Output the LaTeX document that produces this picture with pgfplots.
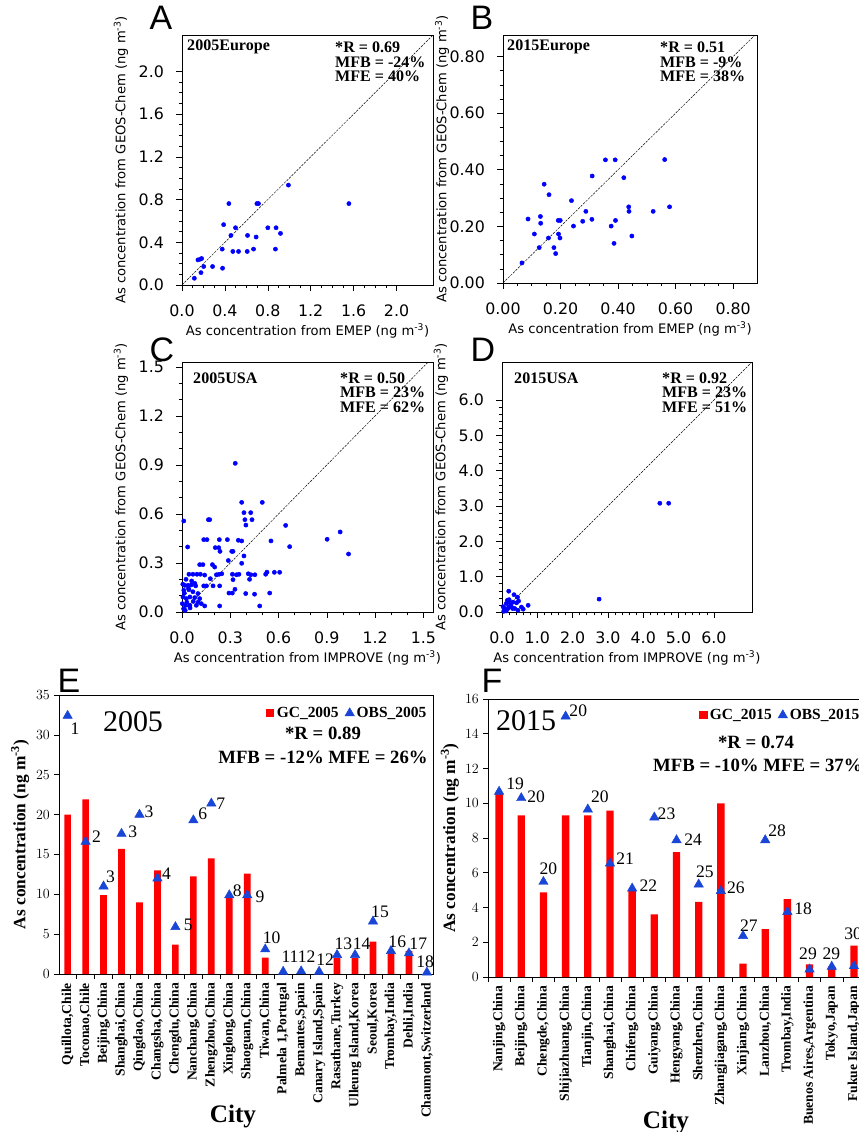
\documentclass[border=0pt]{standalone}
\usepackage{fontspec}
\usepackage{pgfplots}
\pgfplotsset{compat=1.18}
\setmainfont{Liberation Serif}
\newfontfamily\dv{DejaVu Sans}
\newfontfamily\las{Liberation Sans}
\definecolor{sblue}{RGB}{0,0,255}
\definecolor{tblue}{RGB}{25,70,215}
\definecolor{bred}{RGB}{255,0,0}

\pgfplotsset{
  sca/.style={scale only axis, tick pos=left, tick align=outside,
    major tick length=1.8mm, minor tick length=1.0mm,
    axis line style={line width=0.6pt}, every tick/.style={black,line width=0.5pt},
    tick label style={font=\dv\fontsize{13.5}{14}\selectfont},
    xticklabel shift=3mm, yticklabel shift=2.4mm,
    label style={font=\dv\fontsize{11.2}{12}\selectfont},
    ylabel={As concentration from GEOS-Chem (ng m\textsuperscript{-3})},
    ylabel style={at={(axis description cs:-0.243,0.5)},anchor=center},
    xlabel style={at={(axis description cs:0.5,-0.184)},anchor=center}},
  pts/.style={only marks, mark=*, mark size=1.8pt, color=sblue},
  diag/.style={black, line width=0.4pt, dash pattern=on 2pt off 1pt},
  barax/.style={scale only axis, tick pos=left, tick align=outside, clip=false,
    major tick length=1.5mm, minor tick length=1.5mm, ymin=0,
    axis line style={line width=0.6pt}, every tick/.style={black,line width=0.5pt},
    major x tick style={draw=none},
    yticklabel style={font=\bfseries\fontsize{12.8}{14}\selectfont},
    xticklabel style={rotate=90, anchor=east, font=\bfseries\fontsize{11.6}{13}\selectfont},
    ylabel={As concentration (ng m\textsuperscript{-3})},
    ylabel style={font=\bfseries\fontsize{14.8}{16}\selectfont, at={(axis description cs:-0.104,0.5)}, anchor=center},
    legend columns=2,
    legend style={draw=none, fill=none, inner sep=0pt, font=\bfseries\fontsize{13.2}{14}\selectfont,
      /tikz/every even column/.append style={column sep=1.2mm}}},
  gc/.style={ybar, bar width=2.0mm, bar shift=0pt, fill=bred, draw=none,
    legend image code/.code={\fill[bred] (0mm,-1.3mm) rectangle (2.6mm,1.3mm);}},
  obs/.style={only marks, mark=triangle*, mark size=4.6pt, color=tblue}
}

\begin{document}
\begin{tikzpicture}
\path[use as bounding box] (0,0) rectangle ({859*0.3mm},{-1132*0.3mm});

% (A) 2005 Europe
\begin{axis}[sca, at={({182*0.3mm},{-285*0.3mm})}, anchor=south west,
  width=75.3mm, height=75mm, xmin=0, xmax=2.34, ymin=0, ymax=2.34,
  xtick={0,0.4,0.8,1.2,1.6,2.0}, xticklabels={0.0,0.4,0.8,1.2,1.6,2.0},
  ytick={0,0.4,0.8,1.2,1.6,2.0}, yticklabels={0.0,0.4,0.8,1.2,1.6,2.0},
  minor tick num=3, xlabel={As concentration from EMEP (ng m\textsuperscript{-3})}]
\addplot[diag] coordinates {(0,0) (2.34,2.34)};
\addplot[pts] coordinates {(0.115,0.063) (0.149,0.235) (0.171,0.242) (0.183,0.248) (0.177,0.116)
 (0.202,0.173) (0.285,0.173) (0.378,0.157) (0.375,0.336) (0.388,0.565) (0.437,0.762) (0.456,0.464)
 (0.499,0.536) (0.474,0.314) (0.527,0.314) (0.608,0.314) (0.611,0.464) (0.667,0.336) (0.691,0.449)
 (0.698,0.762) (0.713,0.762) (0.800,0.536) (0.877,0.536) (0.871,0.336) (0.918,0.483) (0.992,0.935)
 (1.556,0.762)};
\end{axis}

% (B) 2015 Europe
\begin{axis}[sca, at={({503*0.3mm},{-283*0.3mm})}, anchor=south west,
  width=76.2mm, height=74.4mm, xmin=0, xmax=0.883, ymin=0, ymax=0.876,
  xtick={0,0.2,0.4,0.6,0.8}, xticklabels={0.00,0.20,0.40,0.60,0.80},
  ytick={0,0.2,0.4,0.6,0.8}, yticklabels={0.00,0.20,0.40,0.60,0.80},
  minor tick num=3, ylabel style={at={(axis description cs:-0.240,0.5)}},
  xlabel={As concentration from EMEP (ng m\textsuperscript{-3})}]
\addplot[diag] coordinates {(0,0) (0.876,0.876)};
\addplot[pts] coordinates {(0.066,0.071) (0.087,0.226) (0.109,0.173) (0.126,0.125) (0.130,0.235)
 (0.131,0.211) (0.143,0.349) (0.158,0.159) (0.160,0.312) (0.177,0.125) (0.183,0.104) (0.192,0.221)
 (0.199,0.221) (0.193,0.173) (0.198,0.159) (0.238,0.291) (0.245,0.201) (0.277,0.218) (0.288,0.253)
 (0.309,0.225) (0.310,0.378) (0.356,0.435) (0.390,0.435) (0.376,0.201) (0.386,0.140) (0.391,0.221)
 (0.420,0.372) (0.437,0.269) (0.438,0.253) (0.448,0.166) (0.522,0.253) (0.562,0.436) (0.579,0.269)};
\end{axis}

% (C) 2005 USA
\begin{axis}[sca, at={({182*0.3mm},{-612*0.3mm})}, anchor=south west,
  width=75.3mm, height=75mm, xmin=0, xmax=1.56, ymin=0, ymax=1.53,
  xtick={0,0.3,0.6,0.9,1.2,1.5}, xticklabels={0.0,0.3,0.6,0.9,1.2,1.5},
  ytick={0,0.3,0.6,0.9,1.2,1.5}, yticklabels={0.0,0.3,0.6,0.9,1.2,1.5},
  minor tick num=2, xlabel={As concentration from IMPROVE (ng m\textsuperscript{-3})}]
\addplot[diag] coordinates {(0,0) (1.53,1.53)};
\addplot[pts] coordinates {(0.331,0.910) (0.371,0.671) (0.499,0.671) (0.385,0.608) (0.427,0.608)
 (0.011,0.557) (0.164,0.565) (0.172,0.565) (0.391,0.565) (0.435,0.565) (0.397,0.532) (0.644,0.530)
 (0.135,0.443) (0.155,0.443) (0.232,0.443) (0.282,0.443) (0.350,0.439) (0.371,0.435) (0.553,0.435)
 (0.035,0.398) (0.207,0.394) (0.228,0.394) (0.236,0.371) (0.309,0.371) (0.317,0.371) (0.669,0.400)
 (0.385,0.343) (0.288,0.315) (0.110,0.290) (0.130,0.290) (0.189,0.290) (0.203,0.275) (0.371,0.298)
 (0.043,0.231) (0.068,0.231) (0.093,0.231) (0.114,0.231) (0.141,0.226) (0.214,0.228) (0.230,0.231)
 (0.247,0.234) (0.313,0.231) (0.338,0.228) (0.354,0.231) (0.412,0.234) (0.428,0.228) (0.453,0.228)
 (0.520,0.231) (0.528,0.244) (0.574,0.243) (0.607,0.243) (0.176,0.204) (0.317,0.198) (0.420,0.200)
 (0.017,0.163) (0.037,0.163) (0.058,0.166) (0.085,0.160) (0.135,0.160) (0.152,0.160) (0.193,0.160)
 (0.234,0.160) (0.329,0.139) (0.011,0.133) (0.043,0.136) (0.068,0.124) (0.099,0.113) (0.292,0.116)
 (0.313,0.116) (0.396,0.113) (0.451,0.109) (0.545,0.116) (0.006,0.092) (0.027,0.082) (0.049,0.092)
 (0.079,0.088) (0.110,0.082) (0.002,0.051) (0.023,0.041) (0.049,0.041) (0.089,0.041) (0.120,0.051)
 (0.141,0.037) (0.234,0.037) (0.483,0.037) (0.902,0.445) (0.983,0.490) (1.035,0.355)
 (0.010,0.020) (0.020,0.010) (0.030,0.060) (0.050,0.025) (0.070,0.065) (0.015,0.115) (0.040,0.145)
 (0.060,0.190) (0.025,0.200) (0.080,0.175) (0.005,0.170) (0.100,0.060)};
\end{axis}

% (D) 2015 USA
\begin{axis}[sca, at={({502*0.3mm},{-612*0.3mm})}, anchor=south west,
  width=75mm, height=75mm, xmin=0, xmax=7.08, ymin=0, ymax=7.08,
  xtick={0,1,2,3,4,5,6}, xticklabels={0.0,1.0,2.0,3.0,4.0,5.0,6.0},
  ytick={0,1,2,3,4,5,6}, yticklabels={0.0,1.0,2.0,3.0,4.0,5.0,6.0},
  minor tick num=4, ylabel style={at={(axis description cs:-0.244,0.5)}},
  xlabel={As concentration from IMPROVE (ng m\textsuperscript{-3})}]
\addplot[diag] coordinates {(0,0) (7.08,7.08)};
\addplot[pts] coordinates {(4.47,3.08) (4.72,3.08) (2.75,0.365) (0.19,0.59) (0.34,0.49) (0.44,0.42)
 (0.15,0.33) (0.22,0.28) (0.12,0.24) (0.31,0.28) (0.41,0.26) (0.47,0.31) (0.74,0.19) (0.55,0.14)
 (0.08,0.10) (0.17,0.10) (0.27,0.14) (0.36,0.10) (0.06,0.05) (0.12,0.03) (0.05,0.02) (0.10,0.05)
 (0.20,0.15) (0.25,0.20) (0.30,0.10) (0.45,0.05) (0.60,0.08) (0.03,0.15) (0.20,0.35)};
\end{axis}

% (E) 2005 cities
\begin{axis}[barax, at={({59*0.3mm},{-974*0.3mm})}, anchor=south west,
  width=112.2mm, height=83.7mm, xmin=-0.48, xmax=20.34, ymax=35, ytick={0,5,...,35},
  xtick={0,...,20}, minor xtick={-0.5,0.5,...,20.5},
  xticklabels={{Quillota,Chile},{Toconao,Chile},{Beijing,China},{Shanghai,China},{Qingdao,China},
   {Changsha,China},{Chengdu,China},{Nanchang,China},{Zhengzhou,China},{Xinglong,China},
   {Shaoguan,China},{Tiwan,China},{Palmela 1,Portugal},{Bemantes,Spain},{Canary Island,Spain},
   {Rasathane,Turkey},{Ulleung Island,Korea},{Seoul,Korea},{Trombay,India},{Dehli,India},
   {Chaumont,Switzerland}},
  legend style={at={(axis description cs:0.989,0.935)}, anchor=east}]
\addplot[gc] coordinates {(0,20.0) (1,21.9) (2,9.9) (3,15.7) (4,9.0) (5,13.0) (6,3.7) (7,12.25)
 (8,14.5) (9,9.6) (10,12.6) (11,2.05) (15,2.0) (16,2.0) (17,4.05) (18,2.8) (19,2.9)};
\addplot[obs] coordinates {(0,32.4) (1,16.6) (2,11.0) (3,17.6) (4,20.0) (5,12.0) (6,5.9) (7,19.3)
 (8,21.4) (9,9.9) (10,9.9) (11,3.1) (12,0.3) (13,0.35) (14,0.3) (15,2.4) (16,2.4) (17,6.6)
 (18,2.9) (19,2.6) (20,0.2)};
\legend{GC\_2005,OBS\_2005}
\begin{scope}[every node/.style={font=\fontsize{15}{16}\selectfont, inner sep=0pt}]
\node at (axis cs:0.41,30.8) {1};   \node at (axis cs:1.61,17.2) {2};
\node at (axis cs:2.39,12.2) {3};   \node at (axis cs:3.62,17.9) {3};
\node at (axis cs:4.53,20.3) {3};   \node at (axis cs:5.51,12.6) {4};
\node at (axis cs:6.72,6.15) {5};   \node at (axis cs:7.52,20.1) {6};
\node at (axis cs:8.52,21.3) {7};   \node at (axis cs:9.44,10.5) {8};
\node at (axis cs:10.71,9.7) {9};   \node at (axis cs:11.36,4.5) {10};
\node at (axis cs:12.38,2.2) {11};  \node at (axis cs:13.31,2.2) {12};
\node at (axis cs:14.33,1.76) {12}; \node at (axis cs:15.35,3.85) {13};
\node at (axis cs:16.37,3.85) {14}; \node at (axis cs:17.39,7.8) {15};
\node at (axis cs:18.35,4.05) {16}; \node at (axis cs:19.52,3.85) {17};
\node at (axis cs:19.9,1.55) {18};
\end{scope}
\end{axis}

% (F) 2015 cities
\begin{axis}[barax, at={({488*0.3mm},{-977*0.3mm})}, anchor=south west,
  width=113.1mm, height=83.4mm, xmin=-0.5, xmax=16.5, ymax=16, ytick={0,2,...,16},
  xtick={0,...,16}, minor xtick={-0.5,0.5,...,16.5},
  ylabel style={at={(axis description cs:-0.101,0.5)}},
  xticklabels={{Nanjing,China},{Beijing,China},{Chengde,China},{Shijiazhuang,China},{Tianjin,China},
   {Shanghai,China},{Chifeng,China},{Guiyang,China},{Hengyang,China},{Shenzhen,China},
   {Zhangjiagang,China},{Xinjiang,China},{Lanzhou,China},{Trombay,India},
   {Buenos Aires,Argentina},{Tokyo,Japan},{Fukue Island,Japan}},
  legend style={at={(axis description cs:0.992,0.942)}, anchor=east}]
\addplot[gc, bar width=2.2mm] coordinates {(0,10.58) (1,9.3) (2,4.87) (3,9.3) (4,9.3) (5,9.58) (6,5.0)
 (7,3.6) (8,7.19) (9,4.33) (10,10.0) (11,0.77) (12,2.75) (13,4.48) (14,0.73) (15,0.6) (16,1.8)};
\addplot[obs] coordinates {(0,10.67) (1,10.3) (2,5.48) (3,15.0) (4,9.65) (5,6.54) (6,5.1) (7,9.19)
 (8,7.88) (9,5.33) (10,4.96) (11,2.37) (12,7.88) (13,3.75) (14,0.44) (15,0.6) (16,0.63)};
\legend{GC\_2015,OBS\_2015}
\begin{scope}[every node/.style={font=\fontsize{15}{16}\selectfont, inner sep=0pt}]
\node at (axis cs:0.72,11.1) {19};  \node at (axis cs:1.67,10.35) {20};
\node at (axis cs:2.22,6.25) {20};  \node at (axis cs:3.57,15.3) {20};
\node at (axis cs:4.55,10.4) {20};  \node at (axis cs:5.68,6.83) {21};
\node at (axis cs:6.73,5.23) {22};  \node at (axis cs:7.55,9.42) {23};
\node at (axis cs:8.75,7.88) {24};  \node at (axis cs:9.28,6.06) {25};
\node at (axis cs:10.68,5.13) {26}; \node at (axis cs:11.26,2.98) {27};
\node at (axis cs:12.54,8.40) {28}; \node at (axis cs:13.71,3.94) {18};
\node at (axis cs:13.93,1.31) {29}; \node at (axis cs:14.98,1.31) {29};
\node at (axis cs:15.96,2.50) {30};
\end{scope}
\end{axis}

% panel letters
\begin{scope}[every node/.style={font=\las\fontsize{29}{30}\selectfont, inner sep=0pt}]
\node at ({161*0.3mm},{-18*0.3mm}) {A};
\node at ({482*0.3mm},{-18*0.3mm}) {B};
\node at ({162*0.3mm},{-350*0.3mm}) {C};
\node at ({483*0.3mm},{-350*0.3mm}) {D};
\node at ({69*0.3mm},{-681*0.3mm}) {E};
\node at ({492*0.3mm},{-681*0.3mm}) {F};
\end{scope}

% statistics in the scatter panels
\begin{scope}[every node/.style={font=\bfseries\fontsize{13.7}{15}\selectfont, inner sep=0pt, anchor=west}]
\node at ({187*0.3mm},{-47*0.3mm}) {2005Europe};
\node at ({335*0.3mm},{-47*0.3mm}) {*R = 0.69};
\node at ({335*0.3mm},{-62*0.3mm}) {MFB = -24\%};
\node at ({335*0.3mm},{-76*0.3mm}) {MFE = 40\%};
\node at ({507*0.3mm},{-47*0.3mm}) {2015Europe};
\node at ({660*0.3mm},{-47*0.3mm}) {*R = 0.51};
\node at ({660*0.3mm},{-62*0.3mm}) {MFB = -9\%};
\node at ({660*0.3mm},{-76*0.3mm}) {MFE = 38\%};
\node at ({193*0.3mm},{-378*0.3mm}) {2005USA};
\node at ({340*0.3mm},{-378*0.3mm}) {*R = 0.50};
\node at ({340*0.3mm},{-392*0.3mm}) {MFB = 23\%};
\node at ({340*0.3mm},{-407*0.3mm}) {MFE = 62\%};
\node at ({514*0.3mm},{-378*0.3mm}) {2015USA};
\node at ({662*0.3mm},{-378*0.3mm}) {*R = 0.92};
\node at ({662*0.3mm},{-392*0.3mm}) {MFB = 23\%};
\node at ({662*0.3mm},{-407*0.3mm}) {MFE = 51\%};
\end{scope}

% texts of the bar panels
\node[font=\fontsize{25.6}{28}\selectfont, inner sep=0pt] at ({133*0.3mm},{-722*0.3mm}) {2005};
\node[font=\fontsize{25.6}{28}\selectfont, inner sep=0pt] at ({526*0.3mm},{-721*0.3mm}) {2015};
\begin{scope}[every node/.style={font=\bfseries\fontsize{16}{18}\selectfont, inner sep=0pt}]
\node at ({323*0.3mm},{-733*0.3mm}) {*R = 0.89};
\node at ({323*0.3mm},{-757*0.3mm}) {MFB = -12\% MFE = 26\%};
\node at ({756*0.3mm},{-742*0.3mm}) {*R = 0.74};
\node[anchor=west] at ({653*0.3mm},{-765*0.3mm}) {MFB = -10\% MFE = 37\%};
\end{scope}
\node[font=\bfseries\fontsize{21.5}{24}\selectfont, inner sep=0pt] at ({233*0.3mm},{-1116*0.3mm}) {City};
\node[font=\bfseries\fontsize{21.5}{24}\selectfont, inner sep=0pt] at ({666*0.3mm},{-1122*0.3mm}) {City};
\end{tikzpicture}
\end{document}
